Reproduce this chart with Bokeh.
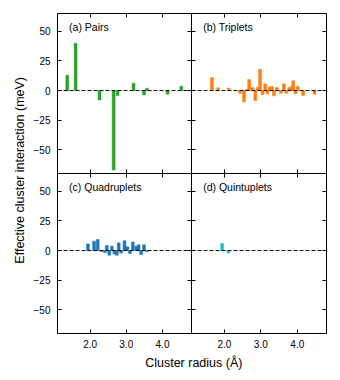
import math
from bokeh.plotting import figure
from bokeh.models import (GridPlot, Range1d, LinearAxis, FixedTicker, Span, Label,
                          NumeralTickFormatter)
from bokeh.embed import file_html
from bokeh.resources import INLINE

# ---------------- data ----------------
PAIR_R = [1.37, 1.60, 2.26, 2.65, 2.76, 3.20, 3.49, 3.57, 4.14, 4.52]
PAIR_E = [13.0, 39.8, -7.9, -67.0, -4.2, 6.2, -3.7, 2.0, -3.1, 3.7]

TRIP_R = [1.66, 1.83, 2.12, 2.43, 2.54, 2.62, 2.68, 2.77, 2.85, 2.92, 2.98, 3.05, 3.12,
          3.18, 3.24, 3.30, 3.36, 3.44, 3.55, 3.63, 3.70, 3.78, 3.85, 3.89, 3.95, 4.01,
          4.16, 4.47]
TRIP_E = [11.0, 2.3, 2.0, -2.3, -9.6, 1.0, 9.3, 2.5, -8.5, 2.8, 18.0, -3.5, 5.5,
          -2.8, 2.8, 3.4, -4.5, 2.5, -2.3, 5.6, -2.3, 2.5, 3.7, 8.2, -2.5, 3.5,
          -4.2, -3.1]

QUAD_R = [1.94, 2.11, 2.21, 2.31, 2.41, 2.46, 2.53, 2.60, 2.67, 2.74, 2.79, 2.86,
          2.95, 3.03, 3.10, 3.18, 3.28, 3.34, 3.41, 3.49, 3.57]
QUAD_E = [5.6, 7.9, 9.3, -0.8, -1.7, 4.2, -4.0, 3.7, -3.0, -4.0, 6.5, -2.0,
          8.2, 3.1, -2.5, 7.1, 3.7, 4.8, -3.4, 4.8, -1.1]

QUIN_R = [1.94, 2.11]
QUIN_E = [5.9, -2.0]

X_TICKS = [2.0, 3.0, 4.0]
Y_TICKS = [-50, -25, 0, 25, 50]
Y_TICK_LABELS = ["\u221250", "\u221225", "0", "25", "50"]
PANEL_TITLES = ["(a) Pairs", "(b) Triplets", "(c) Quadruplets", "(d) Quintuplets"]
COLORS = ["#2ca02c", "#ff7f0e", "#1f77b4", "#17becf"]
X_LABEL = "Cluster radius (\u00c5)"
Y_LABEL = "Effective cluster interaction (meV)"

X_RANGE = (1.1, 4.8)
Y_RANGE = (-70, 65)
BAR_WIDTH = 0.08
FONT = "Liberation Sans"


def make_axis(kind, labels):
    ax = LinearAxis()
    if kind == "x":
        ax.ticker = FixedTicker(ticks=X_TICKS)
        ax.formatter = NumeralTickFormatter(format="0.0")
    else:
        ax.ticker = FixedTicker(ticks=Y_TICKS)
        ax.major_label_overrides = dict(zip(Y_TICKS, Y_TICK_LABELS))
    ax.major_tick_in = 4
    ax.major_tick_out = 0
    ax.minor_tick_in = 0
    ax.minor_tick_out = 0
    ax.axis_line_color = "black"
    ax.major_tick_line_color = "black"
    ax.major_label_text_font = FONT
    ax.major_label_text_font_size = "10px"
    ax.major_label_text_color = "black" if labels else None
    ax.major_label_standoff = (6 if kind == "x" else 7) if labels else 0
    return ax


def base_fig(width, height, xr, yr, **borders):
    p = figure(width=width, height=height, x_range=Range1d(*xr), y_range=Range1d(*yr),
               x_axis_type=None, y_axis_type=None, output_backend="svg",
               toolbar_location=None, **borders)
    if p.title is not None:
        p.title.visible = False
    p.outline_line_color = None
    p.background_fill_color = "white"
    p.border_fill_color = "white"
    return p


def make_panel(idx, radius, eci, left_labels, bottom_labels, width, height, borders):
    p = base_fig(width, height, X_RANGE, Y_RANGE, **borders)
    p.add_layout(make_axis("y", left_labels), "left")
    p.add_layout(make_axis("y", False), "right")
    p.add_layout(make_axis("x", False), "above")
    p.add_layout(make_axis("x", bottom_labels), "below")
    p.vbar(x=radius, top=eci, bottom=0, width=BAR_WIDTH,
           fill_color=COLORS[idx], line_color=COLORS[idx], line_width=0.5)
    p.add_layout(Span(location=0, dimension="width", line_color="black",
                      line_dash="4 2", line_width=1))
    p.add_layout(Label(x=1.42, y=54, text=PANEL_TITLES[idx], text_font=FONT,
                       text_font_size="10.5px", text_baseline="middle",
                       text_color="black"))
    return p


pa = make_panel(0, PAIR_R, PAIR_E, True, False, 161, 173,
                dict(min_border_left=25, min_border_right=0, min_border_top=13, min_border_bottom=0))
pb = make_panel(1, TRIP_R, TRIP_E, False, False, 139, 173,
                dict(min_border_left=0, min_border_right=4, min_border_top=13, min_border_bottom=0))
pc = make_panel(2, QUAD_R, QUAD_E, True, True, 161, 180,
                dict(min_border_left=25, min_border_right=0, min_border_top=0, min_border_bottom=20))
pd = make_panel(3, QUIN_R, QUIN_E, False, True, 139, 180,
                dict(min_border_left=0, min_border_right=4, min_border_top=0, min_border_bottom=20))

ylab = base_fig(30, 353, (0, 30), (0, 353), min_border=0)
ylab.add_layout(Label(x=19, y=353 - 173, text=Y_LABEL, angle=math.pi / 2,
                      text_align="center", text_baseline="middle", text_font=FONT,
                      text_font_size="12.5px", text_color="black"))

xlab = base_fig(300, 18, (0, 300), (0, 18), min_border=0)
xlab.add_layout(Label(x=152, y=9, text=X_LABEL, text_align="center",
                      text_baseline="middle", text_font=FONT, text_font_size="12.5px",
                      text_color="black"))

grid = GridPlot(children=[
    (ylab, 0, 0, 2, 1),
    (pa, 0, 1), (pb, 0, 2),
    (pc, 1, 1), (pd, 1, 2),
    (xlab, 2, 1, 1, 2),
], toolbar_location=None, spacing=0)

open("out.html", "w").write(file_html(grid, INLINE))
